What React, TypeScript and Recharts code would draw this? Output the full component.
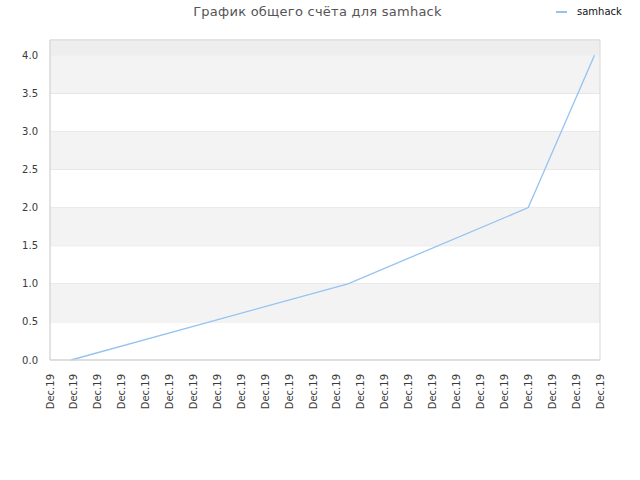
import React from "react";
import {
    LineChart,
    Line,
    XAxis,
    YAxis,
    CartesianGrid,
    ReferenceArea,
} from "recharts";

// Points of the total score line (x = position on the time axis, in tick units)
const pointX = [0.88, 12.46, 20.0, 22.77];
const scores = [0, 1, 2, 4];

// Time axis: 24 ticks, all labelled the same
const xTicks = Array.from({ length: 24 }, (_, i) => i);
const xTickLabels = xTicks.map(() => "Dec.19");

const yTicks = [0, 0.5, 1, 1.5, 2, 2.5, 3, 3.5, 4];
// Grey bands between gridlines
const bandStarts = [0.5, 1.5, 2.5, 3.5];

const title = "График общего счёта для samhack";
const seriesName = "samhack";

const data = pointX.map((x, i) => ({ x, score: scores[i] }));

const FONT = "'DejaVu Sans', sans-serif";
const LINE_COLOR = "#94c3f2";

const XTick = ({ x, y, payload }: { x?: number; y?: number; payload?: { value: number } }) => (
    <text
        x={0}
        y={0}
        transform={`translate(${x}, ${(y ?? 0) + 6}) rotate(-90)`}
        textAnchor="end"
        dominantBaseline="central"
        fontSize={10}
        fontFamily={FONT}
        fill="#3a3a3a"
    >
        {xTickLabels[payload?.value ?? 0]}
    </text>
);

export default function App() {
    return (
        <div style={{ position: "absolute", left: 0, top: 0, width: 640, height: 480, background: "#fff" }}>
            <div style={{
                position: "absolute",
                top: 4,
                left: 0,
                width: 635,
                textAlign: "center",
                fontFamily: FONT,
                fontSize: 13,
                letterSpacing: 0.25,
                color: "#555",
            }}>
                {title}
            </div>
            <div style={{
                position: "absolute",
                top: 6,
                left: 556,
                display: "flex",
                alignItems: "center",
                fontFamily: FONT,
                fontSize: 10,
                color: "#111",
            }}>
                <span style={{ display: "inline-block", width: 11, height: 2, background: LINE_COLOR, marginRight: 10 }} />
                {seriesName}
            </div>
            <LineChart
                width={640}
                height={480}
                data={data}
                margin={{ top: 40, right: 40, left: 0, bottom: 0 }}
            >
                {bandStarts.map((b) => (
                    <ReferenceArea key={b} y1={b} y2={b + 0.5} fill="#f3f3f3" fillOpacity={1} strokeOpacity={0} />
                ))}
                <ReferenceArea y1={4} y2={4.2} fill="#eeeeee" fillOpacity={1} strokeOpacity={0} />
                <CartesianGrid vertical={false} stroke="#dddddd" strokeDasharray="" />
                <ReferenceArea x1={0} x2={23} y1={0} y2={4.2} fill="none" stroke="#d9d9d9" strokeWidth={1} />
                <XAxis
                    dataKey="x"
                    type="number"
                    domain={[0, 23]}
                    ticks={xTicks}
                    interval={0}
                    height={120}
                    tickLine={false}
                    axisLine={{ stroke: "#d9d9d9" }}
                    tick={<XTick />}
                />
                <YAxis
                    type="number"
                    domain={[0, 4.2]}
                    ticks={yTicks}
                    width={50}
                    tickLine={false}
                    tickMargin={6}
                    axisLine={{ stroke: "#d9d9d9" }}
                    tickFormatter={(v: number) => v.toFixed(1)}
                    tick={{ fontSize: 10, fontFamily: FONT, fill: "#3a3a3a" }}
                />
                <Line
                    type="linear"
                    dataKey="score"
                    stroke={LINE_COLOR}
                    strokeWidth={1.3}
                    dot={false}
                    isAnimationActive={false}
                />
            </LineChart>
        </div>
    );
}
